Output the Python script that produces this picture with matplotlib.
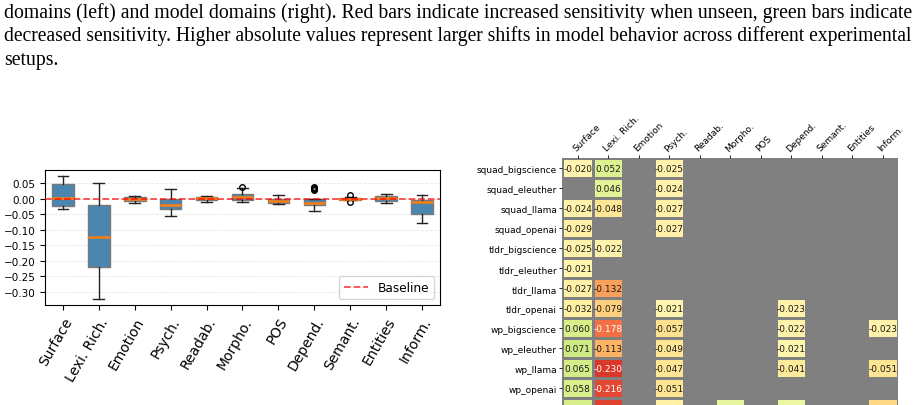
import numpy as np
import matplotlib.pyplot as plt

caption_lines = [
    "domains (left) and model domains (right). Red bars indicate increased sensitivity when unseen, green bars indicate",
    "decreased sensitivity. Higher absolute values represent larger shifts in model behavior across different experimental",
    "setups.",
]

features = ['Surface', 'Lexi. Rich.', 'Emotion', 'Psych.', 'Readab.', 'Morpho.',
            'POS', 'Depend.', 'Semant.', 'Entities', 'Inform.']

# box summaries
box_med = [0.002, -0.122, -0.001, -0.021, 0.001, 0.005, -0.0085, -0.013, 0.000, 0.001, -0.012]
box_q1 = [-0.025, -0.219, -0.0075, -0.032, -0.004, -0.005, -0.014, -0.019, -0.003, -0.0065, -0.048]
box_q3 = [0.048, -0.020, 0.004, -0.002, 0.005, 0.014, -0.001, -0.001, 0.003, 0.0075, -0.004]
box_lo = [-0.032, -0.323, -0.015, -0.057, -0.012, -0.012, -0.018, -0.041, -0.004, -0.015, -0.077]
box_hi = [0.072, 0.051, 0.0085, 0.030, 0.0085, 0.034, 0.011, 0.000, 0.004, 0.014, 0.011]
box_fliers = [[], [], [], [], [], [0.037], [], [0.038, 0.035, 0.032, 0.029],
              [0.013, -0.010], [], []]

setups = ['squad_bigscience', 'squad_eleuther', 'squad_llama', 'squad_openai',
          'tldr_bigscience', 'tldr_eleuther', 'tldr_llama', 'tldr_openai',
          'wp_bigscience', 'wp_eleuther', 'wp_llama', 'wp_openai', '']

nan = np.nan
shift_values = [
    [-0.020, 0.052, nan, -0.025, nan, nan, nan, nan, nan, nan, nan],
    [nan, 0.046, nan, -0.024, nan, nan, nan, nan, nan, nan, nan],
    [-0.024, -0.048, nan, -0.027, nan, nan, nan, nan, nan, nan, nan],
    [-0.029, nan, nan, -0.027, nan, nan, nan, nan, nan, nan, nan],
    [-0.025, -0.022, nan, nan, nan, nan, nan, nan, nan, nan, nan],
    [-0.021, nan, nan, nan, nan, nan, nan, nan, nan, nan, nan],
    [-0.027, -0.132, nan, nan, nan, nan, nan, nan, nan, nan, nan],
    [-0.032, -0.079, nan, -0.021, nan, nan, nan, -0.023, nan, nan, nan],
    [0.060, -0.178, nan, -0.057, nan, nan, nan, -0.022, nan, nan, -0.023],
    [0.071, -0.113, nan, -0.049, nan, nan, nan, -0.021, nan, nan, nan],
    [0.065, -0.230, nan, -0.047, nan, nan, nan, -0.041, nan, nan, -0.051],
    [0.058, -0.216, nan, -0.051, nan, nan, nan, nan, nan, nan, nan],
    [0.062, -0.221, nan, -0.030, nan, 0.033, nan, 0.031, nan, nan, -0.068],
]

fig = plt.figure(figsize=(9.2, 4.06), dpi=100)
renderer = fig.canvas.get_renderer()

# caption text from the page, first two lines stretched to the full width
size = 14.3
for i, line in enumerate(caption_lines):
    t = fig.text(4 / 920, 1 - (18 + 23.5 * i) / 406, line, fontfamily='Liberation Serif',
                 fontsize=size, va='baseline', ha='left')
    if i < 2:
        w = t.get_window_extent(renderer).width
        t.set_fontsize(size * 911 / w)
        if i == 0:
            size = size * 911 / w

# left: box plot
ax1 = fig.add_axes([45 / 920, 1 - 306 / 406, 395 / 920, 135 / 406])
stats = []
for i in range(len(features)):
    stats.append(dict(med=box_med[i], q1=box_q1[i], q3=box_q3[i],
                      whislo=box_lo[i], whishi=box_hi[i], fliers=box_fliers[i]))
ax1.bxp(stats, positions=range(1, len(features) + 1), widths=0.6, patch_artist=True,
        boxprops=dict(facecolor='#4a86b0', edgecolor='#7a7a7a', linewidth=1),
        medianprops=dict(color='#ff7f0e', linewidth=1.8),
        whiskerprops=dict(color='#222222', linewidth=1),
        capprops=dict(color='#222222', linewidth=1),
        flierprops=dict(marker='o', markerfacecolor='none', markeredgecolor='black',
                        markersize=4))
ax1.axhline(0, color='red', linestyle='--', alpha=0.7, linewidth=1.3,
            label='Baseline', zorder=3)
ax1.set_xlim(0.5, len(features) + 0.5)
ax1.set_ylim(-0.342, 0.092)
ax1.set_yticks(np.arange(-0.30, 0.051, 0.05))
ax1.yaxis.grid(True, linestyle='--', alpha=0.3, linewidth=0.6)
ax1.set_axisbelow(True)
ax1.set_xticks(range(1, len(features) + 1))
ax1.set_xticklabels(features, rotation=60, ha='right', rotation_mode='anchor', fontsize=10)
ax1.tick_params(axis='y', labelsize=7.5)
ax1.legend(loc='lower right', fontsize=8.7)

# right: heatmap of shifts
data = np.ma.masked_invalid(np.array(shift_values))
ax2 = fig.add_axes([562.5 / 920, 1 - 419.3 / 406, 335.5 / 920, 260 / 406])
ax2.set_facecolor('gray')
ax2.pcolormesh(data, cmap='RdYlGn', vmin=-0.3, vmax=0.3,
               edgecolors='gray', linewidth=0.8)
ax2.set_xlim(0, len(features))
ax2.set_ylim(len(setups), 0)
for r in range(data.shape[0]):
    if setups[r] == '':
        continue  # last row is cut by the page edge
    for c in range(data.shape[1]):
        v = shift_values[r][c]
        if np.isnan(v):
            continue
        ax2.text(c + 0.5, r + 0.5, f'{v:.3f}', ha='center', va='center',
                 fontsize=6.5, color='white' if v < -0.15 else '#1a1a1a')
for s in ax2.spines.values():
    s.set_visible(False)
ax2.xaxis.tick_top()
ax2.set_xticks(np.arange(len(features)) + 0.5)
ax2.set_xticklabels(features, rotation=45, ha='left', va='bottom',
                    rotation_mode='anchor', fontsize=6.5)
ax2.set_yticks(np.arange(len(setups)) + 0.5)
ax2.set_yticklabels(setups, fontsize=6.5)
ax2.tick_params(length=2.5, width=0.6, pad=1.5)

fig.savefig('out.png', dpi=100)
